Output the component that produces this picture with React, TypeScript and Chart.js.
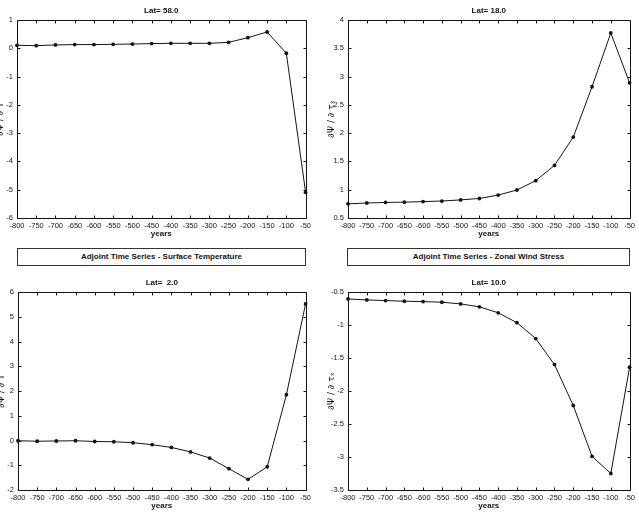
import React, { useEffect, useRef } from "react";
import { Chart, registerables } from "chart.js";

Chart.register(...registerables);

// ---- data ----
const years = [-800, -750, -700, -650, -600, -550, -500, -450, -400, -350, -300, -250, -200, -150, -100, -50];
const lat58 = [0.106, 0.094, 0.118, 0.13, 0.13, 0.14, 0.15, 0.165, 0.176, 0.176, 0.176, 0.21, 0.376, 0.576, -0.176, -5.09];
const lat18 = [0.75, 0.765, 0.775, 0.78, 0.79, 0.8, 0.82, 0.845, 0.905, 0.995, 1.16, 1.43, 1.93, 2.82, 3.77, 2.89];
const lat2 = [-0.01, -0.03, -0.02, -0.01, -0.04, -0.05, -0.09, -0.17, -0.28, -0.46, -0.71, -1.14, -1.57, -1.06, 1.85, 5.52];
const lat10 = [-0.605, -0.62, -0.63, -0.64, -0.645, -0.655, -0.68, -0.725, -0.815, -0.965, -1.205, -1.6, -2.22, -2.99, -3.25, -1.64];

const titles = ["Lat= 58.0", "Lat= 18.0", "Lat=  2.0", "Lat= 10.0"];
const yLabels = ["\u2202\u03A8 / \u2202 T", "\u2202\u03A8 / \u2202 \u03C4\u2093"];
const boxTitles = ["Adjoint Time Series - Surface Temperature", "Adjoint Time Series - Zonal Wind Stress"];

const FONT = "'Liberation Sans', Arial, Helvetica, sans-serif";
const INK = "#141414";

const framePlugin = {
  id: "matlabFrame",
  afterDatasetsDraw(chart: any) {
    const { ctx, chartArea: a, scales } = chart;
    ctx.save();
    ctx.strokeStyle = INK;
    ctx.lineWidth = 1;
    const l = Math.round(a.left) + 0.5;
    const r = Math.round(a.right) + 0.5;
    const t = Math.round(a.top) + 0.5;
    const b = Math.round(a.bottom) + 0.5;
    ctx.beginPath();
    ctx.rect(l, t, r - l, b - t);
    const tl = 3;
    scales.x.ticks.forEach((tk: any) => {
      const px = Math.round(scales.x.getPixelForValue(tk.value)) + 0.5;
      ctx.moveTo(px, b);
      ctx.lineTo(px, b - tl);
      ctx.moveTo(px, t);
      ctx.lineTo(px, t + tl);
    });
    scales.y.ticks.forEach((tk: any) => {
      const py = Math.round(scales.y.getPixelForValue(tk.value)) + 0.5;
      ctx.moveTo(l, py);
      ctx.lineTo(l + tl, py);
      ctx.moveTo(r, py);
      ctx.lineTo(r - tl, py);
    });
    ctx.stroke();
    ctx.restore();
  },
};

type PanelProps = {
  cLeft: number;
  cTop: number;
  L: number;
  T: number;
  R: number;
  B: number;
  title: string;
  yLabel: string;
  values: number[];
  yMin: number;
  yMax: number;
  yStep: number;
};

function Panel(p: PanelProps) {
  const ref = useRef<HTMLCanvasElement | null>(null);
  const width = p.R - p.cLeft + 8;
  const xAxisH = 25;
  const height = p.B - p.cTop + xAxisH;
  const yAxisW = p.L - p.cLeft;
  const titleH = p.T - p.cTop;

  useEffect(() => {
    if (!ref.current) return;
    const chart = new Chart(ref.current, {
      type: "line",
      data: {
        datasets: [
          {
            data: years.map((x, i) => ({ x, y: p.values[i] })),
            borderColor: INK,
            borderWidth: 1,
            pointRadius: 1.9,
            pointBackgroundColor: INK,
            pointBorderWidth: 0,
            tension: 0,
            clip: false as any,
          },
        ],
      },
      options: {
        animation: false,
        responsive: false,
        devicePixelRatio: 1,
        events: [],
        layout: { padding: { left: 0, right: 8, top: 0, bottom: 0 } },
        plugins: {
          legend: { display: false },
          tooltip: { enabled: false },
          title: {
            display: true,
            text: p.title,
            fullSize: false,
            color: INK,
            font: { family: FONT, size: 8, weight: "bold", lineHeight: 1.2 },
            padding: { top: 6, bottom: titleH - 6 - 9.6 },
          },
        },
        scales: {
          x: {
            type: "linear",
            min: -800,
            max: -50,
            grid: { display: false, drawTicks: false },
            border: { display: false },
            ticks: {
              stepSize: 50,
              autoSkip: false,
              maxRotation: 0,
              padding: 3,
              color: INK,
              font: { family: FONT, size: 7.5 },
              callback: (v: any) => String(v),
            },
            title: {
              display: true,
              text: "years",
              color: INK,
              font: { family: FONT, size: 8, weight: "bold", lineHeight: 1.2 },
              padding: { top: 0, bottom: 4.2 },
            },
            afterFit: (s: any) => {
              s.height = xAxisH;
            },
          },
          y: {
            type: "linear",
            min: p.yMin,
            max: p.yMax,
            grid: { display: false, drawTicks: false },
            border: { display: false },
            ticks: {
              stepSize: p.yStep,
              autoSkip: false,
              padding: 4,
              color: INK,
              font: { family: FONT, size: 7.5 },
              callback: (v: any) => String(v),
            },
            title: {
              display: true,
              text: p.yLabel,
              color: INK,
              font: { family: "'DejaVu Sans', sans-serif", size: 9, lineHeight: 1.2 },
              padding: { top: yAxisW - 16 - 5.4, bottom: 0 },
            },
            afterFit: (s: any) => {
              s.width = yAxisW;
            },
          },
        },
      },
      plugins: [framePlugin],
    } as any);
    return () => chart.destroy();
  }, []);

  return (
    <canvas
      ref={ref}
      width={width}
      height={height}
      style={{ position: "absolute", left: p.cLeft, top: p.cTop, width, height }}
    />
  );
}

function TitleBox({ left, width, text }: { left: number; width: number; text: string }) {
  return (
    <div
      style={{
        position: "absolute",
        left,
        top: 248,
        width,
        height: 18,
        boxSizing: "border-box",
        border: "1px solid #333",
        fontFamily: FONT,
        fontWeight: "bold",
        fontSize: 8,
        lineHeight: "16px",
        textAlign: "center",
        color: INK,
        background: "#fff",
      }}
    >
      {text}
    </div>
  );
}

export default function App() {
  return (
    <div
      style={{
        position: "absolute",
        left: 0,
        top: 0,
        width: 639,
        height: 516,
        overflow: "hidden",
        background: "#fff",
      }}
    >
      <Panel cLeft={-11} cTop={0} L={17} T={20} R={306} B={218} title={titles[0]} yLabel={yLabels[0]} values={lat58} yMin={-6} yMax={1} yStep={1} />
      <Panel cLeft={320} cTop={0} L={348} T={20} R={630} B={218} title={titles[1]} yLabel={yLabels[1]} values={lat18} yMin={0.5} yMax={4} yStep={0.5} />
      <TitleBox left={17} width={289} text={boxTitles[0]} />
      <TitleBox left={347} width={283} text={boxTitles[1]} />
      <Panel cLeft={-10} cTop={272} L={18} T={292} R={306} B={490} title={titles[2]} yLabel={yLabels[0]} values={lat2} yMin={-2} yMax={6} yStep={1} />
      <Panel cLeft={320} cTop={272} L={348} T={292} R={630} B={490} title={titles[3]} yLabel={yLabels[1]} values={lat10} yMin={-3.5} yMax={-0.5} yStep={0.5} />
    </div>
  );
}
